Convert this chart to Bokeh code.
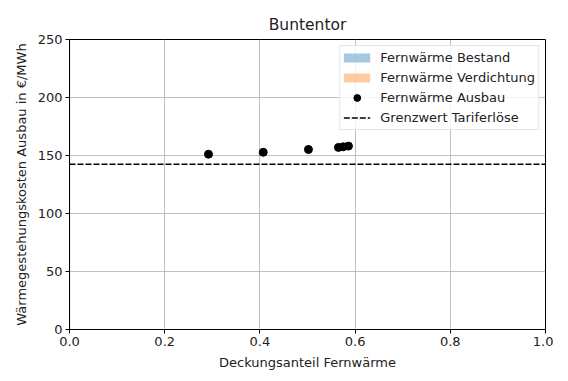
from bokeh.plotting import figure
from bokeh.models import FixedTicker, NumeralTickFormatter, Range1d, Legend, LegendItem
from bokeh.embed import file_html
from bokeh.resources import INLINE

title = "Buntentor"
x_label = "Deckungsanteil Fernwärme"
y_label = "Wärmegestehungskosten Ausbau in €/MWh"

x_ticks = [0.0, 0.2, 0.4, 0.6, 0.8, 1.0]
y_ticks = [0, 50, 100, 150, 200, 250]

# Fernwärme Bestand (degenerate area at x=0)
bestand_x = [0.0, 0.0]
bestand_y = [0.0, 250.0]
# Fernwärme Verdichtung (no visible area)
verdichtung_x = [float("nan")]
verdichtung_y = [float("nan")]
# Fernwärme Ausbau
ausbau_x = [0.292, 0.407, 0.502, 0.565, 0.575, 0.586]
ausbau_y = [151.1, 152.8, 155.2, 157.0, 157.5, 158.1]
# Grenzwert Tariferlöse
grenz_x = [0.0, 1.0]
grenz_y = [142.5, 142.5]

FONT = "DejaVu Sans"

p = figure(output_backend="svg", toolbar_location=None,
           frame_width=476, frame_height=290,
           min_border_left=69, min_border_right=8, min_border_top=39, min_border_bottom=44,
           x_range=Range1d(0, 1), y_range=Range1d(0, 250),
           title=title)
p.title.align = "center"
p.title.text_font = FONT
p.title.text_font_size = "15.5px"
p.title.text_font_style = "normal"
p.title.text_color = "#222222"
p.title.standoff = 12
p.outline_line_color = "black"
p.outline_line_width = 1
p.background_fill_color = "white"
p.border_fill_color = "white"

# visible thin edge of the zero-width Bestand area
p.line(bestand_x, bestand_y, line_color="#1f77b4", line_alpha=0.4, line_width=1.5)
# legend swatches
r_best = p.line([float("nan")], [float("nan")], line_color="#1f77b4", line_alpha=0.4,
                line_width=9, line_cap="butt")
r_verd = p.line(verdichtung_x, verdichtung_y, line_color="#ff7f0e", line_alpha=0.4,
                line_width=9, line_cap="butt")
r_aus = p.scatter(ausbau_x, ausbau_y, size=8, fill_color="black", line_color="black")
r_grenz = p.line(grenz_x, grenz_y, line_color="black", line_width=1.5, line_dash="6 2")

for ax in (p.xaxis[0], p.yaxis[0]):
    ax.major_label_text_font = FONT
    ax.major_label_text_font_size = "13px"
    ax.major_label_text_color = "#222222"
    ax.axis_label_text_font = FONT
    ax.axis_label_text_font_size = "13px"
    ax.axis_label_text_font_style = "normal"
    ax.axis_label_text_color = "#222222"
    ax.axis_line_color = "black"
    ax.major_tick_line_color = "black"
    ax.major_tick_out = 4
    ax.major_tick_in = 0
    ax.minor_tick_line_color = None
    ax.major_label_standoff = 3

p.xaxis[0].ticker = FixedTicker(ticks=x_ticks)
p.yaxis[0].ticker = FixedTicker(ticks=y_ticks)
p.xaxis[0].formatter = NumeralTickFormatter(format="0.0")
p.yaxis[0].formatter = NumeralTickFormatter(format="0")
p.xaxis[0].axis_label = x_label
p.yaxis[0].axis_label = y_label
p.xaxis[0].axis_label_standoff = 6
p.yaxis[0].axis_label_standoff = 6

p.xgrid.grid_line_color = "#b0b0b0"
p.ygrid.grid_line_color = "#b0b0b0"
p.xgrid.grid_line_width = 0.8
p.ygrid.grid_line_width = 0.8

legend = Legend(items=[
    LegendItem(label="Fernwärme Bestand", renderers=[r_best]),
    LegendItem(label="Fernwärme Verdichtung", renderers=[r_verd]),
    LegendItem(label="Fernwärme Ausbau", renderers=[r_aus]),
    LegendItem(label="Grenzwert Tariferlöse", renderers=[r_grenz]),
], location="top_right")
legend.label_text_font = FONT
legend.label_text_font_size = "13px"
legend.label_text_color = "#222222"
legend.border_line_color = "#cccccc"
legend.background_fill_alpha = 0.8
legend.glyph_width = 27
legend.glyph_height = 17
legend.spacing = 3
legend.padding = 3
legend.margin = 6
legend.label_standoff = 10
legend.label_height = 17
p.add_layout(legend)

open("out.html", "w").write(file_html(p, INLINE))
